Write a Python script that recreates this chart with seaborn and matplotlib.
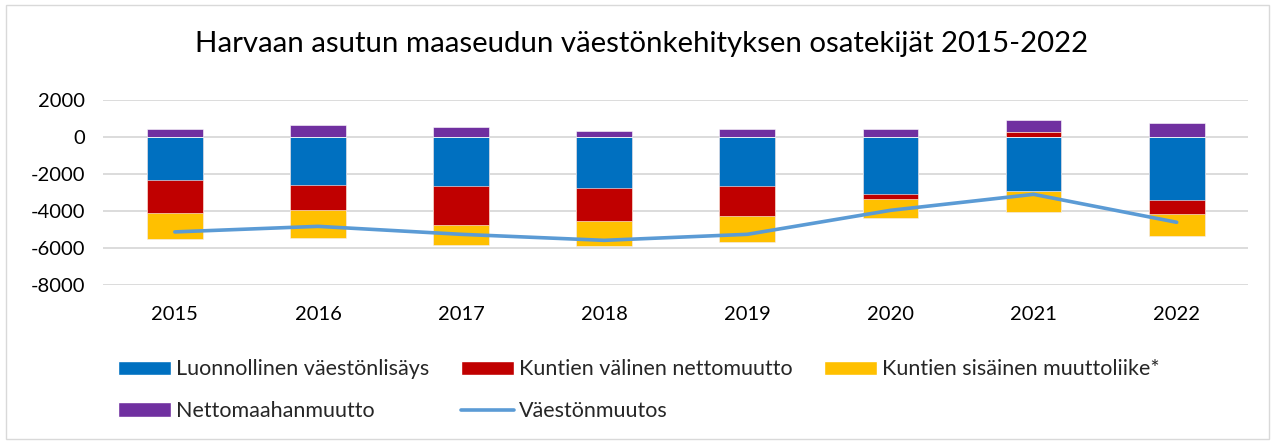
import matplotlib as mpl
mpl.use("Agg")
from matplotlib import pyplot as plt
from matplotlib.patches import Patch, Rectangle
from matplotlib.lines import Line2D
import seaborn as sns
import numpy as np
import pandas as pd

years = ["2015", "2016", "2017", "2018", "2019", "2020", "2021", "2022"]
luonnollinen = [-2300, -2580, -2650, -2775, -2650, -3080, -2920, -3400]
valinen = [-1800, -1370, -2090, -1785, -1640, -290, 290, -775]
sisainen = [-1420, -1495, -1100, -1335, -1385, -990, -1115, -1155]
maahanmuutto = [410, 630, 520, 325, 415, 430, 650, 775]
muutos = [-5130, -4830, -5260, -5585, -5260, -3965, -3100, -4610]

labels = ["Luonnollinen väestönlisäys", "Kuntien välinen nettomuutto",
          "Kuntien sisäinen muuttoliike*", "Nettomaahanmuutto", "Väestönmuutos"]
colors = ["#0070C0", "#C00000", "#FFC000", "#7030A0"]
line_color = "#5B9BD5"

# Excel style stacking: negatives downwards from 0, positives upwards from 0
series = np.array([luonnollinen, valinen, sisainen, maahanmuutto], dtype=float)
neg = np.cumsum(np.where(series < 0, series, 0), axis=0)
pos = np.cumsum(np.where(series > 0, series, 0), axis=0)

sns.set_style("white")
plt.rcParams["font.family"] = ["Lato", "DejaVu Sans"]
plt.rcParams["axes.unicode_minus"] = False

fig = plt.figure(figsize=(12.75, 4.44), dpi=100)
ax = fig.add_axes([0.081, 0.358, 0.898, 0.417])

# draw the cumulative stacks from the outermost inwards
for i in [3, 2, 1, 0]:
    df = pd.DataFrame({"year": years, "neg": neg[i], "pos": pos[i]})
    sns.barplot(data=df, x="year", y="neg", color=colors[i], width=0.39,
                saturation=1, edgecolor="white", linewidth=0.4, ax=ax, zorder=3)
    sns.barplot(data=df, x="year", y="pos", color=colors[i], width=0.39,
                saturation=1, edgecolor="white", linewidth=0.4, ax=ax, zorder=3)

sns.pointplot(x=years, y=muutos, color=line_color, markers="", linestyles="-",
              linewidth=2.6, ax=ax, zorder=4)

ax.set_ylim(-8000, 2000)
ax.set_xlim(-0.5, 7.5)
ax.set_yticks(np.arange(-8000, 2001, 2000))
ax.yaxis.grid(True, color="#D9D9D9", linewidth=1.3, zorder=0)
ax.xaxis.grid(False)
ax.set_axisbelow(True)
sns.despine(ax=ax, left=True, bottom=True)
ax.tick_params(axis="both", length=0, labelsize=14.5, colors="#000000")
ax.tick_params(axis="x", pad=15)
ax.tick_params(axis="y", pad=13)
ax.set_xlabel("")
ax.set_ylabel("")

fig.suptitle("Harvaan asutun maaseudun väestönkehityksen osatekijät 2015-2022",
             x=0.503, y=0.93, fontsize=21.2, color="#000000")

handles = [Patch(facecolor=c) for c in colors] + [Line2D([], [], color=line_color, linewidth=2.6)]
order = [0, 3, 1, 4, 2]
fig.legend([handles[k] for k in order], [labels[k] for k in order], ncol=3,
           loc="upper left", bbox_to_anchor=(0.086, 0.21), frameon=False,
           fontsize=15.5, handlelength=2.45, handleheight=0.65, handletextpad=0.25,
           columnspacing=1.45, labelspacing=1.0, borderaxespad=0)

fig.patches.append(Rectangle((0.005, 0.012), 0.99, 0.976, transform=fig.transFigure,
                             fill=False, edgecolor="#D9D9D9", linewidth=1))

fig.savefig("out.png", dpi=100, facecolor="white")
